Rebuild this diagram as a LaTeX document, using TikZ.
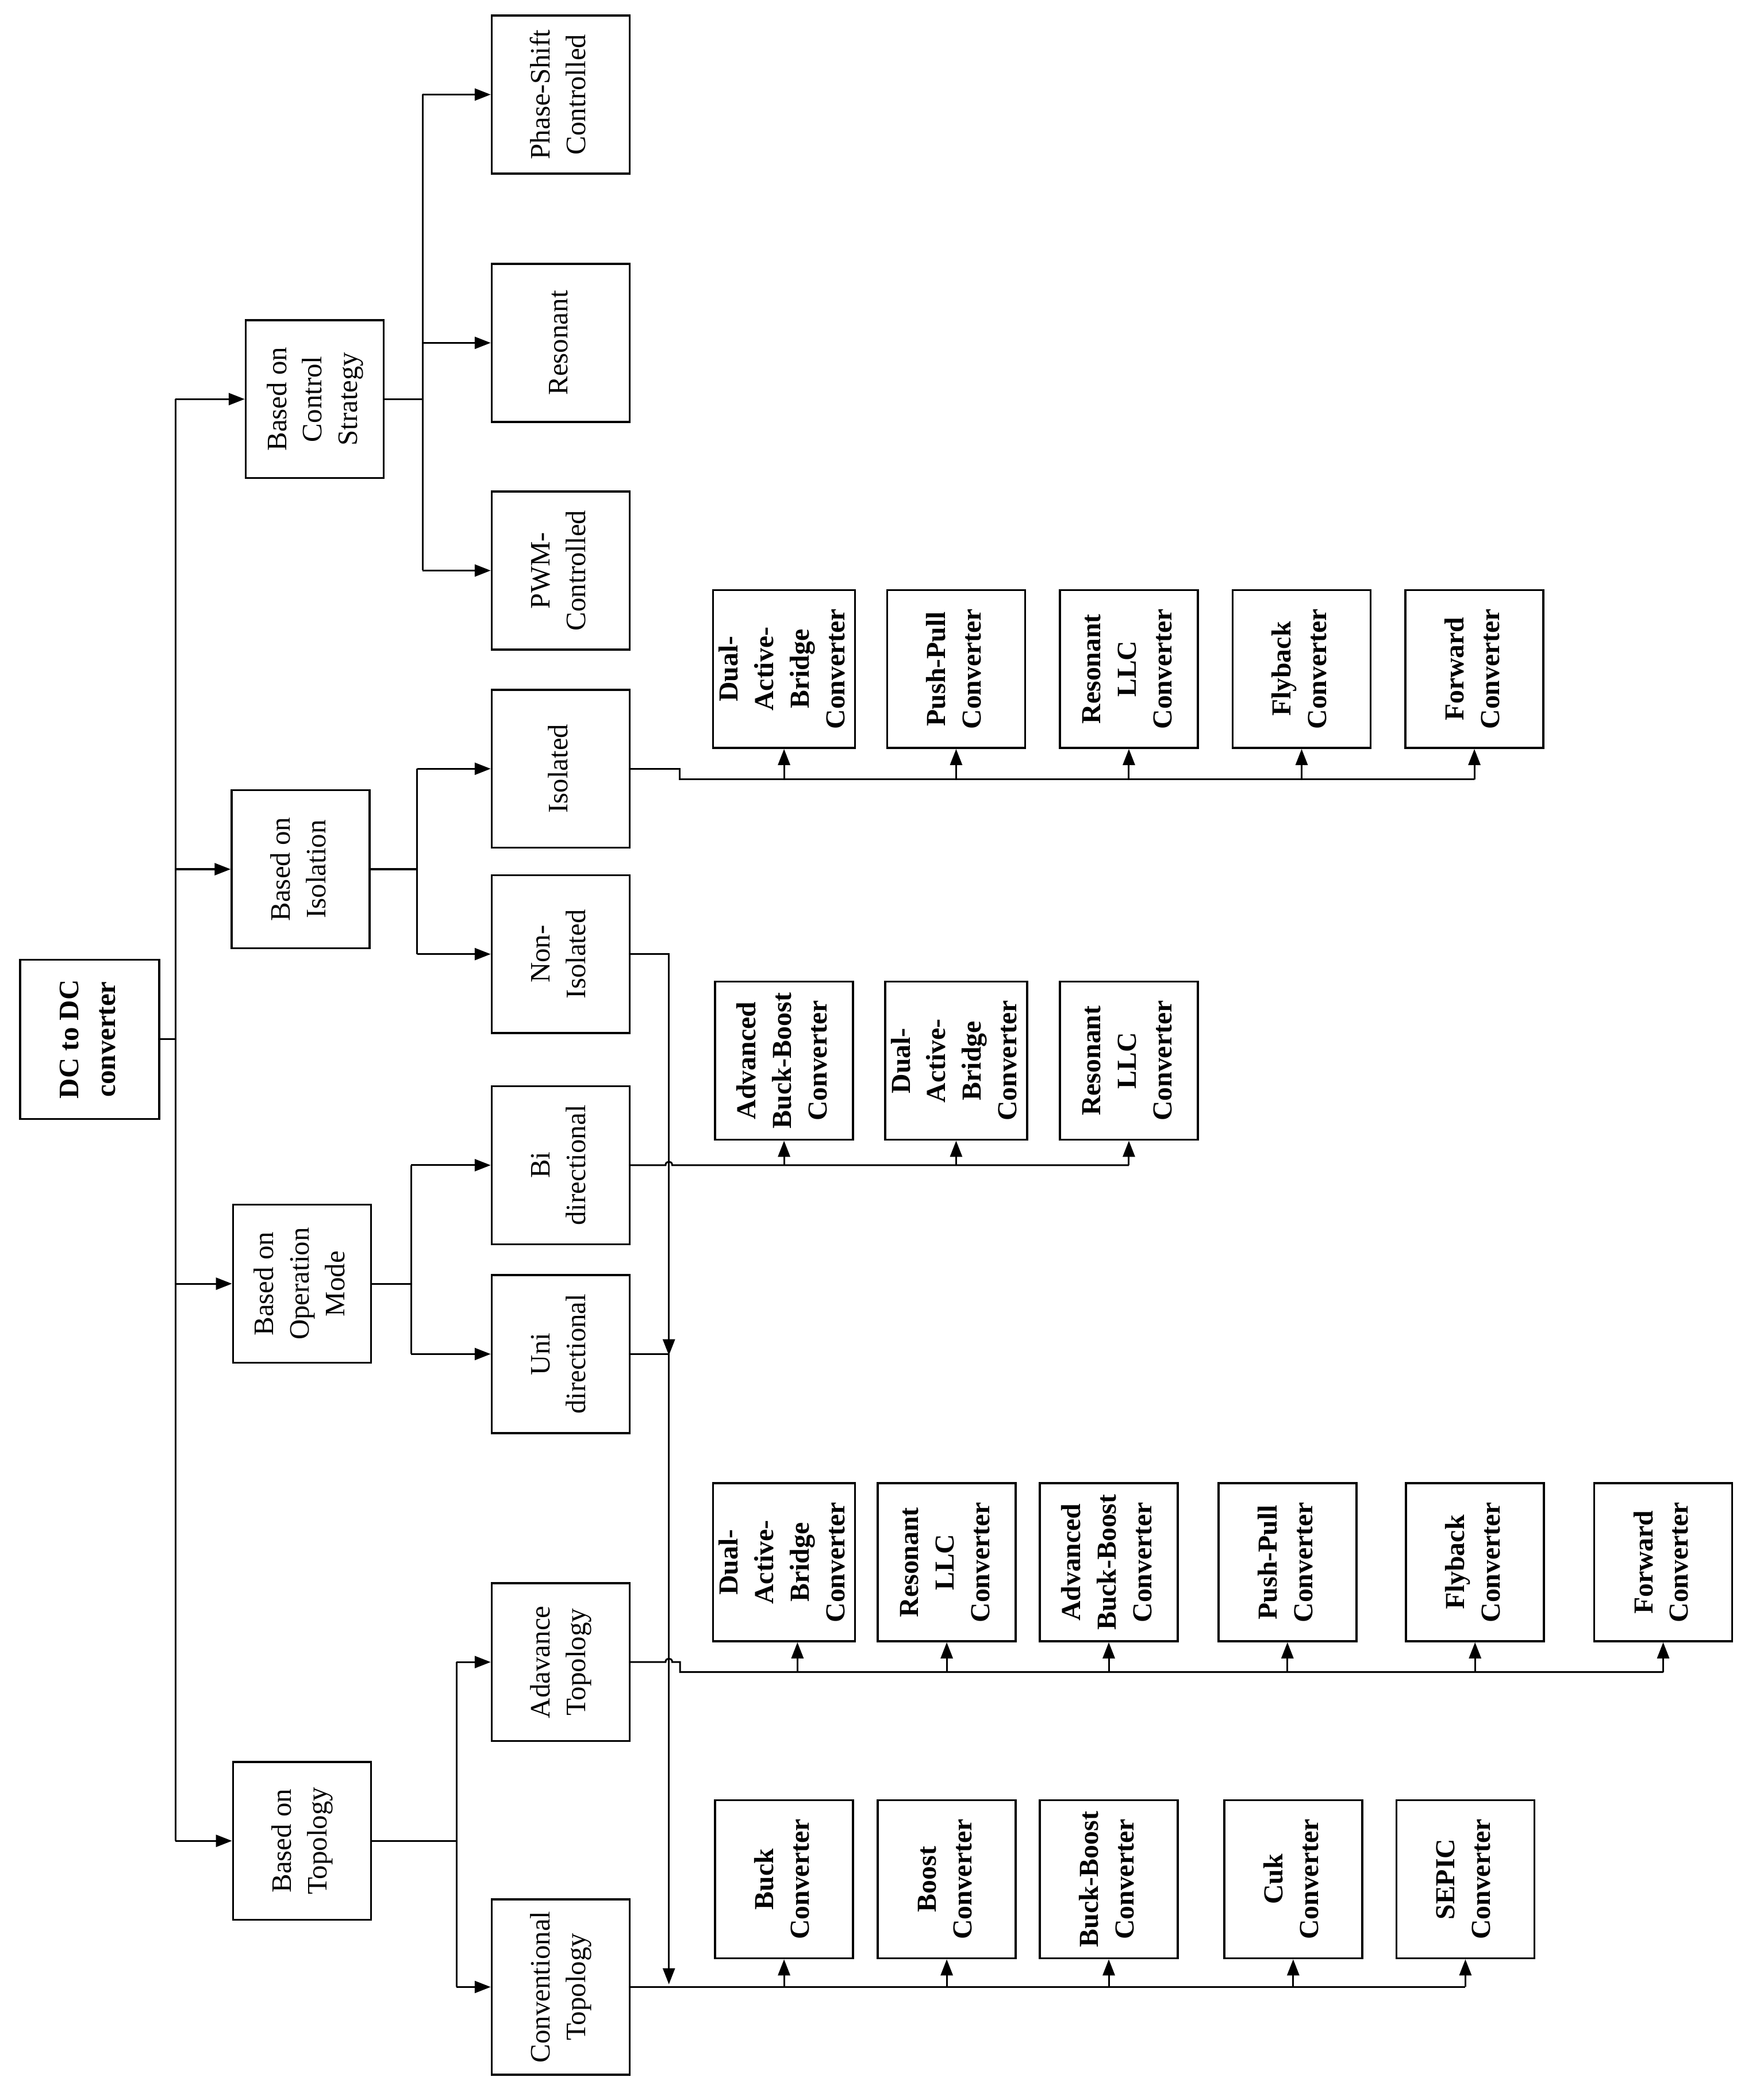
\documentclass[tikz,border=0pt]{standalone}
\usepackage{fontspec}
\setmainfont{Liberation Serif}
\usetikzlibrary{arrows.meta}
\newcommand{\rt}[1]{\rotatebox{90}{\begin{tabular}{@{}c@{}}#1\end{tabular}}}
\tikzset{
  box/.style={draw, line width=1.5pt, inner sep=0pt, minimum width=103pt, minimum height=118pt,
              font=\fontsize{21}{26.5}\selectfont},
  bbox/.style={box, font=\fontsize{20.5}{26.5}\selectfont\bfseries},
  ln/.style={line width=1.3pt},
  arr/.style={line width=1.3pt, -{Triangle[length=12pt,width=9pt]}}
}
\begin{document}
\begin{tikzpicture}[x=1pt,y=-1pt]
\fill[white] (0,0) rectangle (1311,1568);
\useasboundingbox (0,0) rectangle (1311,1568);

% level 0
\node[bbox, font=\fontsize{21}{27.4}\selectfont\bfseries, minimum width=104pt, minimum height=119pt] (dc) at (67,776) {\rt{DC to DC\\converter}};

% level 1
\node[box] (cs)   at (235,298)    {\rt{Based on\\Control\\Strategy}};
\node[box] (isol) at (224.5,649)  {\rt{Based on\\Isolation}};
\node[box] (op)   at (225.5,958.5){\rt{Based on\\Operation\\Mode}};
\node[box] (top)  at (225.5,1374.5){\rt{Based on\\Topology}};

% level 2
\node[box] (ps)   at (418.7,70.6) {\rt{Phase-Shift\\Controlled}};
\node[box] (rs)   at (418.7,256)  {\rt{Resonant}};
\node[box] (pwm)  at (418.7,426)  {\rt{PWM-\\Controlled}};
\node[box] (iso)  at (418.7,574)  {\rt{Isolated}};
\node[box] (non)  at (418.7,712.4){\rt{Non-\\Isolated}};
\node[box] (bi)   at (418.7,870)  {\rt{Bi\\directional}};
\node[box] (uni)  at (418.7,1011) {\rt{Uni\\directional}};
\node[box] (adv)  at (418.7,1241) {\rt{Adavance\\Topology}};
\node[box, minimum height=131pt] (conv) at (418.7,1483.6) {\rt{Conventional\\Topology}};

% level 3, row A (isolated)
\node[bbox] (a1) at (585.5,499.5) {\rt{Dual-\\Active-\\Bridge\\Converter}};
\node[bbox] (a2) at (714,499.5)   {\rt{Push-Pull\\Converter}};
\node[bbox] (a3) at (843,499.5)   {\rt{Resonant\\LLC\\Converter}};
\node[bbox] (a4) at (972,499.5)   {\rt{Flyback\\Converter}};
\node[bbox] (a5) at (1101,499.5)  {\rt{Forward\\Converter}};

% row B (bi directional)
\node[bbox] (b1) at (585.5,792) {\rt{Advanced\\Buck-Boost\\Converter}};
\node[bbox] (b2) at (714,792)   {\rt{Dual-\\Active-\\Bridge\\Converter}};
\node[bbox] (b3) at (843,792)   {\rt{Resonant\\LLC\\Converter}};

% row C (advance topology)
\node[bbox] (c1) at (585.5,1166.5) {\rt{Dual-\\Active-\\Bridge\\Converter}};
\node[bbox] (c2) at (707,1166.5)   {\rt{Resonant\\LLC\\Converter}};
\node[bbox] (c3) at (828,1166.5)   {\rt{Advanced\\Buck-Boost\\Converter}};
\node[bbox] (c4) at (961.4,1166.5) {\rt{Push-Pull\\Converter}};
\node[bbox] (c5) at (1101.5,1166.5){\rt{Flyback\\Converter}};
\node[bbox] (c6) at (1242,1166.5)  {\rt{Forward\\Converter}};

% row D (conventional)
\node[bbox] (d1) at (585.5,1403.2) {\rt{Buck\\Converter}};
\node[bbox] (d2) at (707,1403.2)   {\rt{Boost\\Converter}};
\node[bbox] (d3) at (828,1403.2)   {\rt{Buck-Boost\\Converter}};
\node[bbox] (d4) at (965.7,1403.2) {\rt{Cuk\\Converter}};
\node[bbox] (d5) at (1094.3,1403.2){\rt{SEPIC\\Converter}};

% helper coordinates
\coordinate (busx) at (131,0);
\coordinate (csx)  at (315.5,0);
\coordinate (isx)  at (311.6,0);
\coordinate (opx)  at (307,0);
\coordinate (tpx)  at (341,0);
\coordinate (vx)   at (499.5,0);
\coordinate (rowA) at (0,582);
\coordinate (rowB) at (0,870);
\coordinate (rowC) at (0,1248.5);
\coordinate (rowD) at (0,1483.6);

% root to level 1
\draw[ln] (dc.east) -- (busx |- dc.east);
\draw[ln] (busx |- cs.west) -- (busx |- top.west);
\foreach \n in {cs,isol,op,top} \draw[arr] (busx |- \n.west) -- (\n.west);

% control strategy
\draw[ln] (cs.east) -- (csx |- cs.east);
\draw[ln] (csx |- ps.west) -- (csx |- pwm.west);
\foreach \n in {ps,rs,pwm} \draw[arr] (csx |- \n.west) -- (\n.west);

% isolation
\draw[ln] (isol.east) -- (isx |- isol.east);
\draw[ln] (isx |- iso.west) -- (isx |- non.west);
\foreach \n in {iso,non} \draw[arr] (isx |- \n.west) -- (\n.west);

% operation mode
\draw[ln] (op.east) -- (opx |- op.east);
\draw[ln] (opx |- bi.west) -- (opx |- uni.west);
\foreach \n in {bi,uni} \draw[arr] (opx |- \n.west) -- (\n.west);

% topology
\draw[ln] (top.east) -- (tpx |- top.east);
\draw[ln] (tpx |- adv.west) -- (tpx |- conv.west);
\foreach \n in {adv,conv} \draw[arr] (tpx |- \n.west) -- (\n.west);

% isolated -> row A
\draw[ln] (iso.east) -- (507.5,574) -- (507.5,582) -- (a5.south |- rowA);
\foreach \n in {a1,a2,a3,a4,a5} \draw[arr] (\n.south |- rowA) -- (\n.south);

% non-isolated and uni directional down the shared riser
\draw[arr] (non.east) -- (vx |- non.east) -- ([yshift=-1pt]vx |- uni.east);
\draw[arr, shorten >=2pt] (uni.east) -- (vx |- uni.east) -- (vx |- conv.east);

% bi directional -> row B (hop over riser)
\draw[ln] (bi.east) -- (497,870) .. controls (497,866.5) and (502,866.5) .. (502,870) -- (b3.south |- rowB);
\foreach \n in {b1,b2,b3} \draw[arr] (\n.south |- rowB) -- (\n.south);

% advance topology -> row C (hop over riser)
\draw[ln] (adv.east) -- (497,1241) .. controls (497,1237.5) and (502,1237.5) .. (502,1241)
      -- (507.8,1241) -- (507.8,1248.5) -- (c6.south |- rowC);
\draw[arr] ([xshift=10pt]c1.south |- rowC) -- ([xshift=10pt]c1.south);
\foreach \n in {c2,c3,c4,c5,c6} \draw[arr] (\n.south |- rowC) -- (\n.south);

% conventional -> row D
\draw[ln] (conv.east) -- (d5.south |- rowD);
\foreach \n in {d1,d2,d3,d4,d5} \draw[arr] (\n.south |- rowD) -- (\n.south);
\end{tikzpicture}
\end{document}
